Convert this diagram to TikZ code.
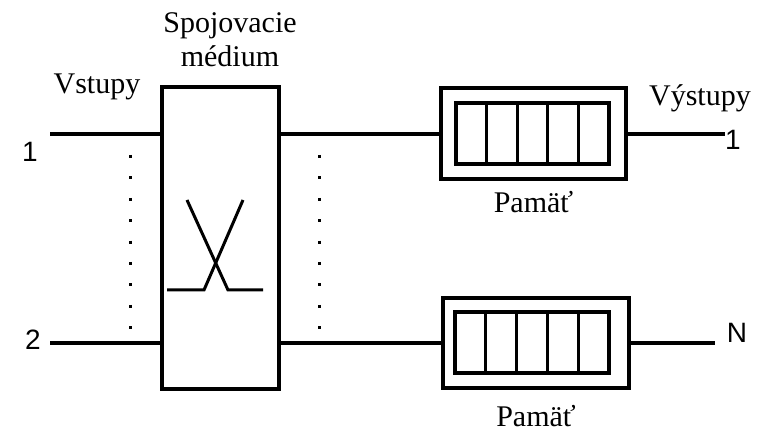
\documentclass[tikz,border=0pt]{standalone}
\usepackage{fontspec}
\setmainfont{Liberation Serif}
\newfontfamily\arialfont{Liberation Sans}
\usetikzlibrary{positioning}

\begin{document}
\begin{tikzpicture}[x=0.5pt, y=-0.5pt,
    box/.style={draw, line width=2pt, inner sep=0pt},
    wire/.style={line width=2pt},
    cell/.style={line width=1.5pt},
    dots/.style={line width=1.5pt, dash pattern=on 1.5pt off 9.2pt},
    lbl/.style={font=\fontsize{15}{17}\selectfont},
    num/.style={font=\arialfont\fontsize{14}{17}\selectfont}]
    \useasboundingbox (0,0) rectangle (762,433);

    % Switching medium
    \node[box, minimum width=58.5pt, minimum height=151pt] (sw) at (220.5,238) {};
    \node[lbl, align=center] (swl) at (230,40) {Spojovacie\\médium};
    \draw[line width=1.5pt] (167,290) -- (204,290) -- (243,200);
    \draw[line width=1.5pt] (187,200) -- (228,290) -- (263,290);

    % Inputs
    \coordinate (in1) at (50,134);
    \coordinate (in2) at (50,343);
    \draw[wire] (in1) -- (in1 -| sw.west);
    \draw[wire] (in2) -- (in2 -| sw.west);
    \node[num] (n1) at (30,152) {1};
    \node[num] (n2) at (33,340) {2};
    \node[lbl] (vst) at (97,87) {Vstupy};
    \draw[dots] (130,155) -- (130,330);

    % Memories
    \node[box, minimum width=92.5pt, minimum height=45.5pt] (mem1) at (533.5,134) {};
    \node[box, minimum width=93pt, minimum height=45pt] (mem2) at (536,343) {};
    \draw[line width=2pt] (456,103) rectangle (609,164);
    \draw[line width=2pt] (455,312) rectangle (609,373);
    \foreach \i in {1,...,4} {
        \draw[cell] (456+30.6*\i,103) -- (456+30.6*\i,164);
        \draw[cell] (455+30.8*\i,312) -- (455+30.8*\i,373);
    }
    \node[lbl, below=1.5pt of mem1] (p1) {Pamäť};
    \node[lbl, inner sep=0pt, below=7.5pt of mem2] (p2) {Pamäť};

    % Switch to memories
    \draw[wire] (sw.east |- mem1) -- (mem1);
    \draw[wire] (sw.east |- mem2) -- (mem2);
    \draw[dots] (319,155) -- (319,330);

    % Outputs
    \coordinate (out1) at (725,134);
    \coordinate (out2) at (715,343);
    \draw[wire] (mem1) -- (out1);
    \draw[wire] (mem2) -- (out2);
    \node[lbl] (vyst) at (700,98) {Výstupy};
    \node[num] (o1) at (733,140) {1};
    \node[num] (oN) at (737,333) {N};
\end{tikzpicture}
\end{document}
